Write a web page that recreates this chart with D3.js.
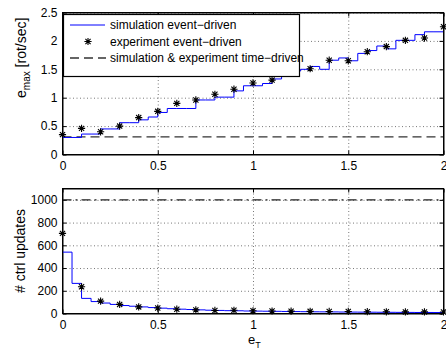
<!DOCTYPE html>
<html>
<head>
<meta charset="utf-8">
<script src="https://cdn.jsdelivr.net/npm/d3@7"></script>
<style>
  body { margin: 0; background: #fff; }
  svg { display: block; font-family: "Liberation Sans", Arial, sans-serif; }
</style>
</head>
<body>
<div id="chart"></div>
<script>
// ---- data ----
const xTicks = [0, 0.5, 1, 1.5, 2];
const topYTicks = [0, 0.5, 1, 1.5, 2, 2.5];
const botYTicks = [0, 200, 400, 600, 800, 1000];

// experiment points (event-driven)
const expX = [0, 0.1, 0.2, 0.3, 0.4, 0.5, 0.6, 0.7, 0.8, 0.9, 1.0,
              1.1, 1.2, 1.3, 1.4, 1.5, 1.6, 1.7, 1.8, 1.9, 2.0];
const expEmax = [0.35, 0.46, 0.40, 0.50, 0.65, 0.76, 0.90, 0.96, 1.06, 1.15, 1.26,
                 1.31, 1.46, 1.51, 1.66, 1.65, 1.81, 1.90, 2.01, 2.05, 2.25];
const expUpdates = [705, 235, 109, 80, 58, 48, 38, 32, 27, 28, 24,
                    22, 21, 19, 18, 18, 16, 15, 14, 14, 13];

// simulation (event-driven), step function
const simX = [0, 0.05, 0.1, 0.15, 0.2, 0.25, 0.3, 0.35, 0.4, 0.45, 0.5,
              0.55, 0.6, 0.65, 0.7, 0.75, 0.8, 0.85, 0.9, 0.95, 1.0,
              1.05, 1.1, 1.15, 1.2, 1.25, 1.3, 1.35, 1.4, 1.45, 1.5,
              1.55, 1.6, 1.65, 1.7, 1.75, 1.8, 1.85, 1.9, 1.95, 2.0];
const simEmax = [0.30, 0.30, 0.36, 0.36, 0.45, 0.45, 0.56, 0.56, 0.61, 0.66, 0.74,
                 0.81, 0.81, 0.81, 0.96, 0.96, 1.01, 1.01, 1.12, 1.21, 1.21,
                 1.25, 1.33, 1.42, 1.47, 1.50, 1.55, 1.50, 1.66, 1.70, 1.65,
                 1.78, 1.83, 1.91, 1.86, 2.01, 2.01, 2.11, 2.16, 2.16, 2.16];
const simUpdatesX = [0, 0, 0.05, 0.1, 0.15, 0.2, 0.25, 0.3, 0.35, 0.4, 0.45, 0.5,
                     0.55, 0.6, 0.65, 0.7, 0.75, 0.8, 0.85, 0.9, 0.95, 1.0,
                     1.05, 1.1, 1.15, 1.2, 1.25, 1.3, 1.35, 1.4, 1.45, 1.5,
                     1.55, 1.6, 1.65, 1.7, 1.75, 1.8, 1.85, 1.9, 1.95, 2.0];
const simUpdates = [700, 540, 265, 133, 105, 92, 80, 70, 64, 58, 52, 47,
                    42, 38, 35, 32, 29, 27, 25, 24, 22, 21,
                    20, 19, 18, 17, 16, 15, 14.5, 14, 13, 12.5,
                    12, 11.5, 11, 10.5, 10, 9.5, 9, 9, 8.5, 8];

// time-driven reference levels
const timeEmax = 0.31;
const timeUpdates = 1000;

// ---- layout ----
const W = 446, H = 349;
const left = 62.5, right = 443.5;
const svg = d3.select('#chart').append('svg').attr('width', W).attr('height', H);

const x = d3.scaleLinear().domain([0, 2]).range([left, right]);
const yTop = d3.scaleLinear().domain([0, 2.5]).range([154.5, 12.5]);
const yBot = d3.scaleLinear().domain([0, 1100]).range([313.5, 188.5]);

function starPath(r) {
    const d = r * 0.72;
    return `M0,${-r}L0,${r}M${-r},0L${r},0M${-d},${-d}L${d},${d}M${-d},${d}L${d},${-d}`;
}

function drawPanel(y, yTicks, id) {
    const [y0, y1] = y.range();
    const g = svg.append('g');

    svg.append('clipPath').attr('id', id)
        .append('rect').attr('x', left).attr('y', y1)
        .attr('width', right - left).attr('height', y0 - y1);

    // grid
    g.append('g').attr('transform', `translate(0,${y0})`)
        .call(d3.axisBottom(x).tickValues(xTicks.slice(1, -1)).tickSize(-(y0 - y1)).tickFormat(''))
        .call(s => s.select('.domain').remove())
        .selectAll('line').attr('stroke', '#777').attr('stroke-dasharray', '1,2.5');
    g.append('g').attr('transform', `translate(${left},0)`)
        .call(d3.axisLeft(y).tickValues(yTicks.slice(1)).tickSize(-(right - left)).tickFormat(''))
        .call(s => s.select('.domain').remove())
        .selectAll('line').attr('stroke', '#777').attr('stroke-dasharray', '1,2.5');

    // axes with inward ticks
    g.append('g').attr('transform', `translate(0,${y0})`)
        .call(d3.axisBottom(x).tickValues(xTicks).tickSizeInner(-4).tickSizeOuter(0).tickPadding(7)
            .tickFormat(d3.format('')));
    g.append('g').attr('transform', `translate(${left},0)`)
        .call(d3.axisLeft(y).tickValues(yTicks).tickSizeInner(-4).tickSizeOuter(0).tickPadding(5)
            .tickFormat(d3.format('')));
    g.append('g').attr('transform', `translate(0,${y1})`)
        .call(d3.axisTop(x).tickValues(xTicks).tickSizeInner(-4).tickSizeOuter(0).tickFormat(''));
    g.append('g').attr('transform', `translate(${right},0)`)
        .call(d3.axisRight(y).tickValues(yTicks).tickSizeInner(-4).tickSizeOuter(0).tickFormat(''));
    g.selectAll('.domain').attr('stroke', '#000');
    g.selectAll('.tick text').attr('font-size', 12).attr('fill', '#000')
        .attr('font-family', '"Liberation Sans", Arial, sans-serif');
    return g;
}

// ---- top panel ----
drawPanel(yTop, topYTicks, 'clipTop');
const plotTop = svg.append('g').attr('clip-path', 'url(#clipTop)');

plotTop.append('line')
    .attr('x1', x(0)).attr('x2', x(2))
    .attr('y1', yTop(timeEmax)).attr('y2', yTop(timeEmax))
    .attr('stroke', '#333').attr('stroke-width', 1.3).attr('stroke-dasharray', '9,5');

plotTop.append('path')
    .datum(simX.map((d, i) => [d, simEmax[i]]))
    .attr('fill', 'none').attr('stroke', '#0000ff').attr('stroke-width', 1)
    .attr('d', d3.line().x(d => x(d[0])).y(d => yTop(d[1])).curve(d3.curveStepAfter));

svg.append('g').selectAll('path')
    .data(expX.map((d, i) => [d, expEmax[i]]))
    .join('path')
    .attr('transform', d => `translate(${x(d[0])},${yTop(d[1])})`)
    .attr('d', starPath(3.6)).attr('stroke', '#000').attr('stroke-width', 1.1).attr('fill', 'none');

// box
svg.append('rect').attr('x', left).attr('y', yTop.range()[1])
    .attr('width', right - left).attr('height', yTop.range()[0] - yTop.range()[1])
    .attr('fill', 'none').attr('stroke', '#000');

// legend
const lg = svg.append('g');
lg.append('rect').attr('x', 63.5).attr('y', 14.5).attr('width', 236).attr('height', 62)
    .attr('fill', '#fff').attr('stroke', '#000').attr('stroke-width', 1.2);
const legendItems = [
    { label: 'simulation event\u2212driven', kind: 'line' },
    { label: 'experiment event\u2212driven', kind: 'star' },
    { label: 'simulation & experiment time\u2212driven', kind: 'dash' }
];
legendItems.forEach((it, i) => {
    const cy = 25 + i * 16.5;
    if (it.kind === 'line') {
        lg.append('line').attr('x1', 70).attr('x2', 105).attr('y1', cy).attr('y2', cy)
            .attr('stroke', '#0000ff');
    } else if (it.kind === 'star') {
        lg.append('path').attr('transform', `translate(88,${cy})`).attr('d', starPath(3.6))
            .attr('stroke', '#000').attr('stroke-width', 1.1).attr('fill', 'none');
    } else {
        lg.append('line').attr('x1', 70).attr('x2', 106).attr('y1', cy).attr('y2', cy)
            .attr('stroke', '#333').attr('stroke-width', 1.3).attr('stroke-dasharray', '9,5');
    }
    lg.append('text').attr('x', 110).attr('y', cy + 4.3).attr('font-size', 12).text(it.label);
});

// y label top
const ylTop = svg.append('text')
    .attr('transform', 'translate(26,98) rotate(-90)')
    .attr('font-size', 14);
ylTop.append('tspan').text('e');
ylTop.append('tspan').attr('font-size', 10).attr('dy', 4).text('max');
ylTop.append('tspan').attr('dy', -4).text(' [rot/sec]');

// ---- bottom panel ----
drawPanel(yBot, botYTicks, 'clipBot');
const plotBot = svg.append('g').attr('clip-path', 'url(#clipBot)');

plotBot.append('line')
    .attr('x1', x(0)).attr('x2', x(2))
    .attr('y1', yBot(timeUpdates)).attr('y2', yBot(timeUpdates))
    .attr('stroke', '#222').attr('stroke-width', 1.2).attr('stroke-dasharray', '9,4,2,4');

plotBot.append('path')
    .datum(simUpdatesX.map((d, i) => [d, simUpdates[i]]))
    .attr('fill', 'none').attr('stroke', '#0000ff').attr('stroke-width', 1)
    .attr('d', d3.line().x(d => x(d[0])).y(d => yBot(d[1])).curve(d3.curveStepAfter));

svg.append('g').selectAll('path')
    .data(expX.map((d, i) => [d, expUpdates[i]]))
    .join('path')
    .attr('transform', d => `translate(${x(d[0])},${yBot(d[1])})`)
    .attr('d', starPath(3.6)).attr('stroke', '#000').attr('stroke-width', 1.1).attr('fill', 'none');

svg.append('rect').attr('x', left).attr('y', yBot.range()[1])
    .attr('width', right - left).attr('height', yBot.range()[0] - yBot.range()[1])
    .attr('fill', 'none').attr('stroke', '#000');

svg.append('text')
    .attr('transform', 'translate(25,251) rotate(-90)')
    .attr('text-anchor', 'middle').attr('font-size', 14)
    .text('# ctrl updates');

// x label
const xl = svg.append('text').attr('x', 248).attr('y', 344).attr('font-size', 13);
xl.append('tspan').text('e');
xl.append('tspan').attr('font-size', 9).attr('dy', 3.5).text('T');
</script>
</body>
</html>
